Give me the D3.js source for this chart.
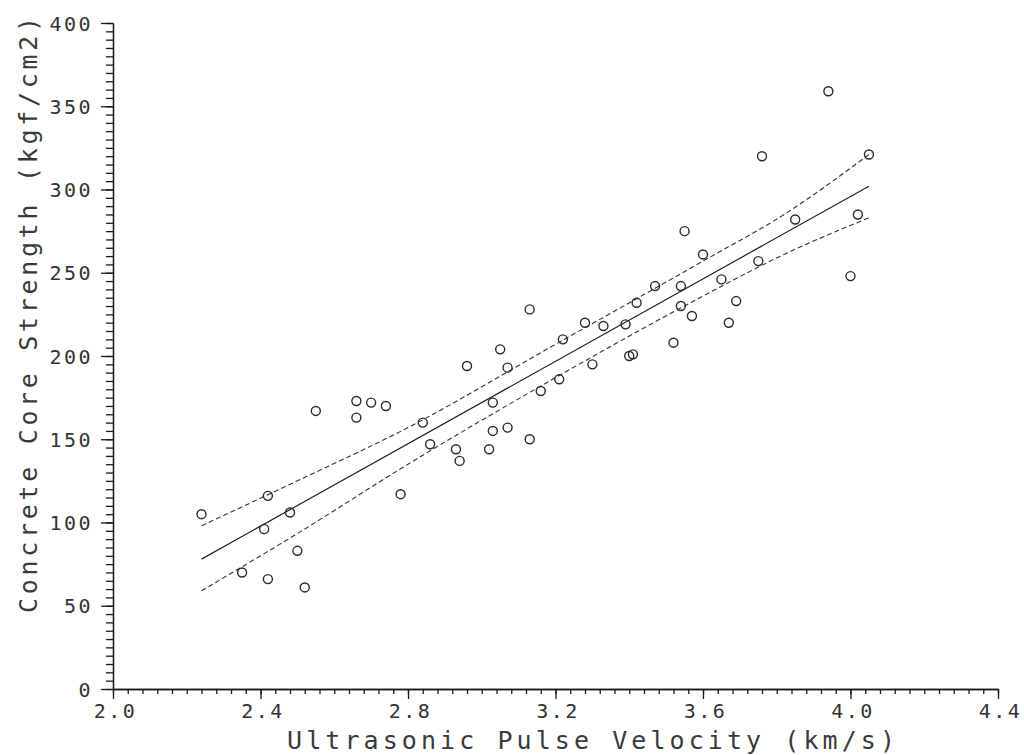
<!DOCTYPE html>
<html>
<head>
<meta charset="utf-8">
<script src="https://cdn.jsdelivr.net/npm/d3@7"></script>
<style>
  body { margin:0; background:#fff; }
  .axis path, .axis line { stroke:#1a1a1a; stroke-width:1.3; }
  .axis text { font-family:"DejaVu Sans Mono", monospace; fill:#333; }
</style>
</head>
<body>
<div id="chart"></div>
<script>
// measured points: ultrasonic pulse velocity (km/s) vs core strength (kgf/cm2)
var velocity = [2.24,2.42,2.41,2.48,2.50,2.35,2.42,2.52,2.55,2.66,2.66,2.70,2.74,2.78,2.84,2.86,2.93,2.94,
                2.96,3.02,3.03,3.03,3.05,3.07,3.07,3.13,3.13,3.16,3.21,3.22,3.28,3.30,3.33,3.39,3.40,3.41,
                3.42,3.47,3.52,3.54,3.54,3.55,3.57,3.60,3.65,3.67,3.69,3.75,3.76,3.85,3.94,4.00,4.02,4.05];
var strength = [105,116,96,106,83,70,66,61,167,173,163,172,170,117,160,147,144,137,
                194,144,172,155,204,193,157,228,150,179,186,210,220,195,218,219,200,201,
                232,242,208,242,230,275,224,261,246,220,233,257,320,282,359,248,285,321];

// regression line end points
var fitX = [2.24, 4.05];
var fitY = [78, 302];

// confidence band
var bandX = [2.24, 2.49, 2.80, 3.20, 3.60, 3.82, 4.05];
var bandUpper = [98, 124, 157, 207, 257, 285, 321];
var bandLower = [59, 92, 135, 187, 236, 261, 283];

var xMajor = [2.0, 2.4, 2.8, 3.2, 3.6, 4.0, 4.4];
var yMajor = [0, 50, 100, 150, 200, 250, 300, 350, 400];

var svg = d3.select("#chart").append("svg").attr("width",1024).attr("height",755),
    margin = {top: 23, left: 113},
    width = 885,
    height = 666,
    g = svg.append("g").attr("transform","translate(" + margin.left + "," + margin.top + ")");

var x = d3.scaleLinear().domain([2.0, 4.4]).range([0, width]);
var y = d3.scaleLinear().domain([0, 400]).range([height, 0]);

// minor ticks
g.append("g").attr("class","axis")
  .attr("transform","translate(0," + height + ")")
  .call(d3.axisBottom(x).tickValues(d3.range(0,61).map(function(i){ return 2.0 + i*0.04; }))
        .tickSize(5).tickSizeOuter(0).tickFormat(""));
g.append("g").attr("class","axis")
  .call(d3.axisLeft(y).tickValues(d3.range(0,81).map(function(i){ return i*5; }))
        .tickSize(7).tickSizeOuter(0).tickFormat(""));

// major ticks + labels
var xa = g.append("g").attr("class","axis")
  .attr("transform","translate(0," + height + ")")
  .call(d3.axisBottom(x).tickValues(xMajor).tickSize(10).tickSizeOuter(0).tickFormat(d3.format(".1f")));
xa.selectAll("text").attr("y",15).attr("dy","0.71em").attr("dx","2px")
  .style("font-size","20px").style("letter-spacing","2.5px");

var ya = g.append("g").attr("class","axis")
  .call(d3.axisLeft(y).tickValues(yMajor).tickSize(12).tickSizeOuter(0).tickFormat(d3.format("d")));
ya.selectAll("text").attr("x",-20).attr("dy","0.36em")
  .style("font-size","20px").style("letter-spacing","2.5px");

// axis titles
svg.append("text")
  .attr("x",287).attr("y",749)
  .attr("textLength",608).attr("lengthAdjust","spacing")
  .style("font-family","DejaVu Sans Mono, monospace").style("font-size","25px").style("fill","#3a3a3a")
  .text("Ultrasonic Pulse Velocity (km/s)");

svg.append("text")
  .attr("transform","translate(37,613) rotate(-90)")
  .attr("textLength",596).attr("lengthAdjust","spacing")
  .style("font-family","DejaVu Sans Mono, monospace").style("font-size","25px").style("fill","#3a3a3a")
  .text("Concrete Core Strength (kgf/cm2)");

// fitted line and band
var fit = d3.line()
  .x(function(d){ return x(d[0]); })
  .y(function(d){ return y(d[1]); });
var band = d3.line()
  .x(function(d){ return x(d[0]); })
  .y(function(d){ return y(d[1]); })
  .curve(d3.curveMonotoneX);

g.append("path")
  .datum(d3.zip(fitX, fitY))
  .attr("d", fit)
  .attr("fill","none").attr("stroke","#222").attr("stroke-width",1.2);

[bandUpper, bandLower].forEach(function(b){
  g.append("path")
    .datum(d3.zip(bandX, b))
    .attr("d", band)
    .attr("fill","none").attr("stroke","#333").attr("stroke-width",1.1)
    .attr("stroke-dasharray","5,3");
});

// data points
g.selectAll("circle.pt")
  .data(d3.zip(velocity, strength))
  .enter().append("circle")
  .attr("class","pt")
  .attr("cx", function(d){ return x(d[0]); })
  .attr("cy", function(d){ return y(d[1]); })
  .attr("r", 4.5)
  .attr("fill","none").attr("stroke","#2a2a2a").attr("stroke-width",1.4);
</script>
</body>
</html>
